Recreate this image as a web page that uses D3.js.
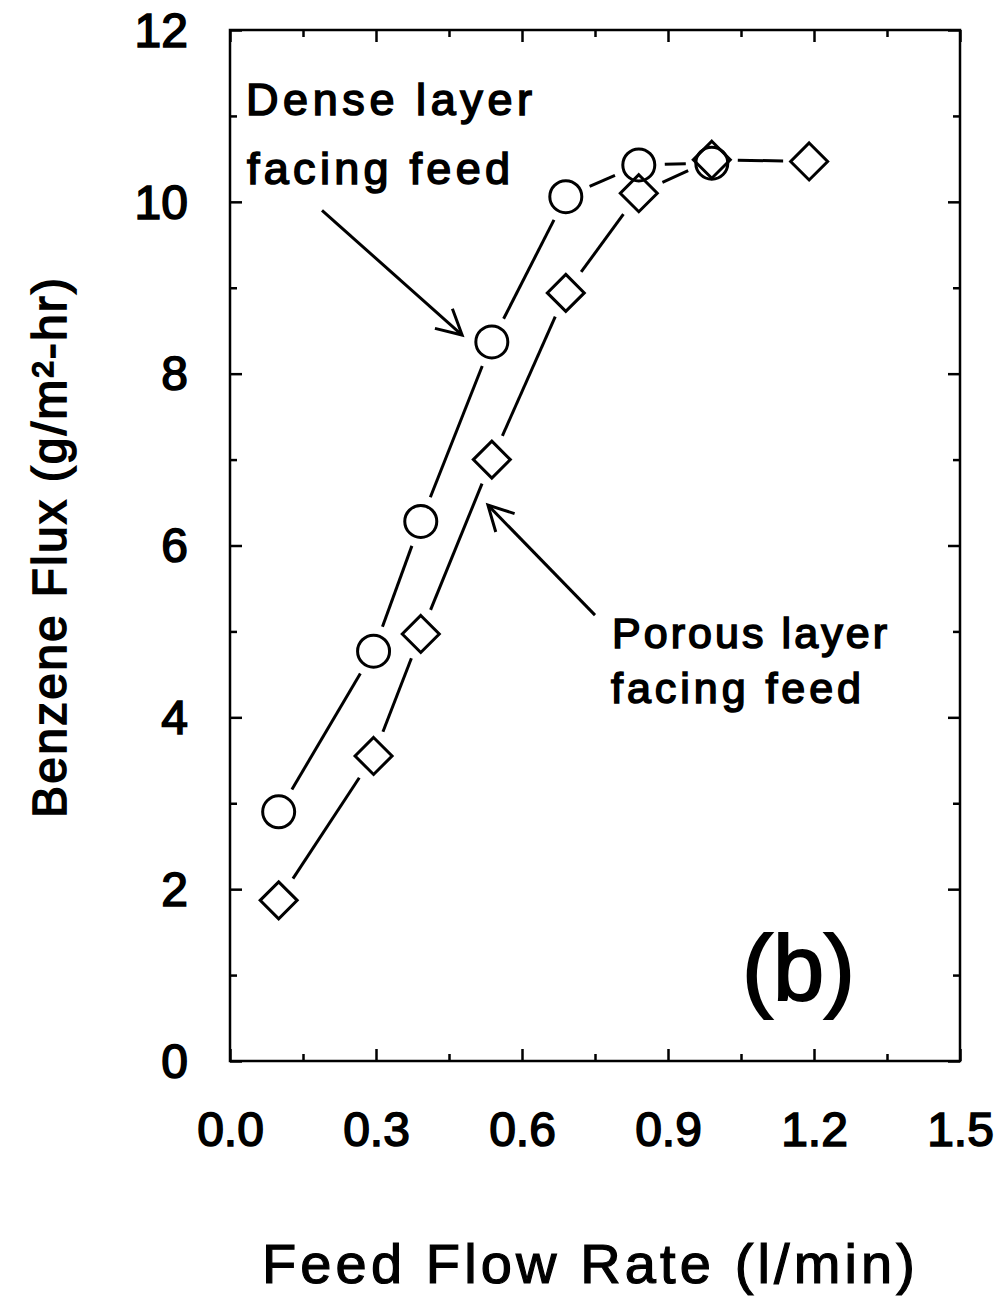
<!DOCTYPE html>
<html>
<head>
<meta charset="utf-8">
<script src="https://cdn.jsdelivr.net/npm/d3@7"></script>
<style>
  body { margin: 0; background: #fff; }
  text { font-family: "Liberation Sans", Arial, Helvetica, sans-serif; fill: #000; stroke: #000; }
</style>
</head>
<body>
<div id="chart"></div>
<script>
// data
const denseX = [0.1, 0.295, 0.392, 0.538, 0.69, 0.84, 0.99];
const denseY = [2.9, 4.77, 6.28, 8.37, 10.06, 10.43, 10.45];
const porousX = [0.1, 0.295, 0.392, 0.538, 0.69, 0.84, 0.99, 1.19];
const porousY = [1.87, 3.55, 4.97, 7.0, 8.94, 10.1, 10.49, 10.47];
const xTicks = [0, 0.3, 0.6, 0.9, 1.2, 1.5];
const xMinor = [0.15, 0.45, 0.75, 1.05, 1.35];
const yTicks = [0, 2, 4, 6, 8, 10, 12];
const yMinor = [1, 3, 5, 7, 9, 11];

const W = 1005, H = 1301;
const plot = {left: 230, right: 960, top: 30, bottom: 1061};

const svg = d3.select("#chart").append("svg")
  .attr("width", W).attr("height", H)
  .style("background", "#fff");

const x = d3.scaleLinear().domain([0, 1.5]).range([plot.left, plot.right]);
const y = d3.scaleLinear().domain([0, 12]).range([plot.bottom, plot.top]);

//frame
svg.append("rect")
  .attr("x", plot.left).attr("y", plot.top)
  .attr("width", plot.right - plot.left).attr("height", plot.bottom - plot.top)
  .attr("fill", "none").attr("stroke", "#000").attr("stroke-width", 2.5);

//axes, ticks point inward
function tickAxis(axis, pos, ticks, size, labels) {
  const g = svg.append("g").attr("transform", pos)
    .call(axis.tickValues(ticks).tickSizeInner(-size).tickSizeOuter(0));
  g.select(".domain").remove();
  g.selectAll("line").attr("stroke", "#000").attr("stroke-width", 2.5);
  if (!labels) g.selectAll("text").remove();
  return g;
}
tickAxis(d3.axisBottom(x).tickFormat(d3.format(".1f")).tickPadding(51), `translate(0,${plot.bottom})`, xTicks, 12, true);
tickAxis(d3.axisBottom(x), `translate(0,${plot.bottom})`, xMinor, 7, false);
tickAxis(d3.axisTop(x), `translate(0,${plot.top})`, xTicks, 12, false);
tickAxis(d3.axisTop(x), `translate(0,${plot.top})`, xMinor, 7, false);
const yl = tickAxis(d3.axisLeft(y).tickFormat(d3.format("d")).tickPadding(42), `translate(${plot.left},0)`, yTicks, 12, true);
tickAxis(d3.axisLeft(y), `translate(${plot.left},0)`, yMinor, 7, false);
tickAxis(d3.axisRight(y), `translate(${plot.right},0)`, yTicks, 12, false);
tickAxis(d3.axisRight(y), `translate(${plot.right},0)`, yMinor, 7, false);

svg.selectAll(".tick text")
  .style("font-family", '"Liberation Sans", Arial, sans-serif')
  .style("font-size", "48px").attr("fill", "#000")
  .attr("stroke", "#000").attr("stroke-width", 1.6);
yl.selectAll("text").attr("dy", "0.34em");

//connecting lines with gaps around markers
function gapLines(xs, ys) {
  const pts = xs.map((d, i) => [x(d), y(ys[i])]);
  const gap = 26;
  const segs = [];
  for (let i = 0; i < pts.length - 1; i++) {
    const [x0, y0] = pts[i], [x1, y1] = pts[i + 1];
    const len = Math.hypot(x1 - x0, y1 - y0);
    if (len <= 2 * gap) continue;
    const ux = (x1 - x0) / len, uy = (y1 - y0) / len;
    segs.push([x0 + ux * gap, y0 + uy * gap, x1 - ux * gap, y1 - uy * gap]);
  }
  svg.append("g").selectAll("line").data(segs).enter().append("line")
    .attr("x1", d => d[0]).attr("y1", d => d[1])
    .attr("x2", d => d[2]).attr("y2", d => d[3])
    .attr("stroke", "#000").attr("stroke-width", 3);
}
gapLines(denseX, denseY);
gapLines(porousX, porousY);

//markers
svg.append("g").selectAll("circle").data(denseX).enter().append("circle")
  .attr("cx", d => x(d)).attr("cy", (d, i) => y(denseY[i]))
  .attr("r", 16).attr("fill", "none").attr("stroke", "#000").attr("stroke-width", 3);

const dh = 18.5;
svg.append("g").selectAll("path").data(porousX).enter().append("path")
  .attr("d", (d, i) => {
    const cx = x(d), cy = y(porousY[i]);
    return `M${cx},${cy - dh}L${cx + dh},${cy}L${cx},${cy + dh}L${cx - dh},${cy}Z`;
  })
  .attr("fill", "none").attr("stroke", "#000").attr("stroke-width", 3)
  .attr("stroke-linejoin", "miter");

//annotation arrows (data units)
function arrow(from, to) {
  const x0 = x(from[0]), y0 = y(from[1]), x1 = x(to[0]), y1 = y(to[1]);
  const a = Math.atan2(y0 - y1, x0 - x1);
  const hl = 28, ha = 28 * Math.PI / 180;
  const g = svg.append("g").attr("stroke", "#000").attr("stroke-width", 3).attr("fill", "none");
  g.append("line").attr("x1", x0).attr("y1", y0).attr("x2", x1).attr("y2", y1);
  g.append("path").attr("d",
    `M${x1 + hl * Math.cos(a + ha)},${y1 + hl * Math.sin(a + ha)}L${x1},${y1}L${x1 + hl * Math.cos(a - ha)},${y1 + hl * Math.sin(a - ha)}`);
}
arrow([0.189, 9.9], [0.477, 8.45]);
arrow([0.75, 5.19], [0.53, 6.47]);

//labels
function label(txt, px, py, size, len, sw) {
  svg.append("text").attr("x", px).attr("y", py)
    .attr("textLength", len).attr("lengthAdjust", "spacing")
    .style("font-size", size + "px").attr("stroke-width", sw)
    .text(txt);
}
label("Dense layer", 246, 115, 45, 286, 1.6);
label("facing feed", 247, 184, 45, 263, 1.6);
label("Porous layer", 612, 648, 43, 275, 1.6);
label("facing feed", 611, 703, 43, 250, 1.6);

svg.append("text").attr("x", 742).attr("y", 1000)
  .attr("textLength", 113).attr("lengthAdjust", "spacing")
  .attr("stroke-width", 2)
  .style("font-size", "92px").text("(b)");

label("Feed Flow Rate (l/min)", 262, 1283, 56, 653, 1.2);

svg.append("text")
  .attr("transform", "translate(66,548) rotate(-90)")
  .attr("text-anchor", "middle")
  .attr("textLength", 540).attr("lengthAdjust", "spacing")
  .attr("stroke-width", 1.6)
  .style("font-size", "48px")
  .text("Benzene Flux (g/m\u00B2-hr)");
</script>
</body>
</html>
